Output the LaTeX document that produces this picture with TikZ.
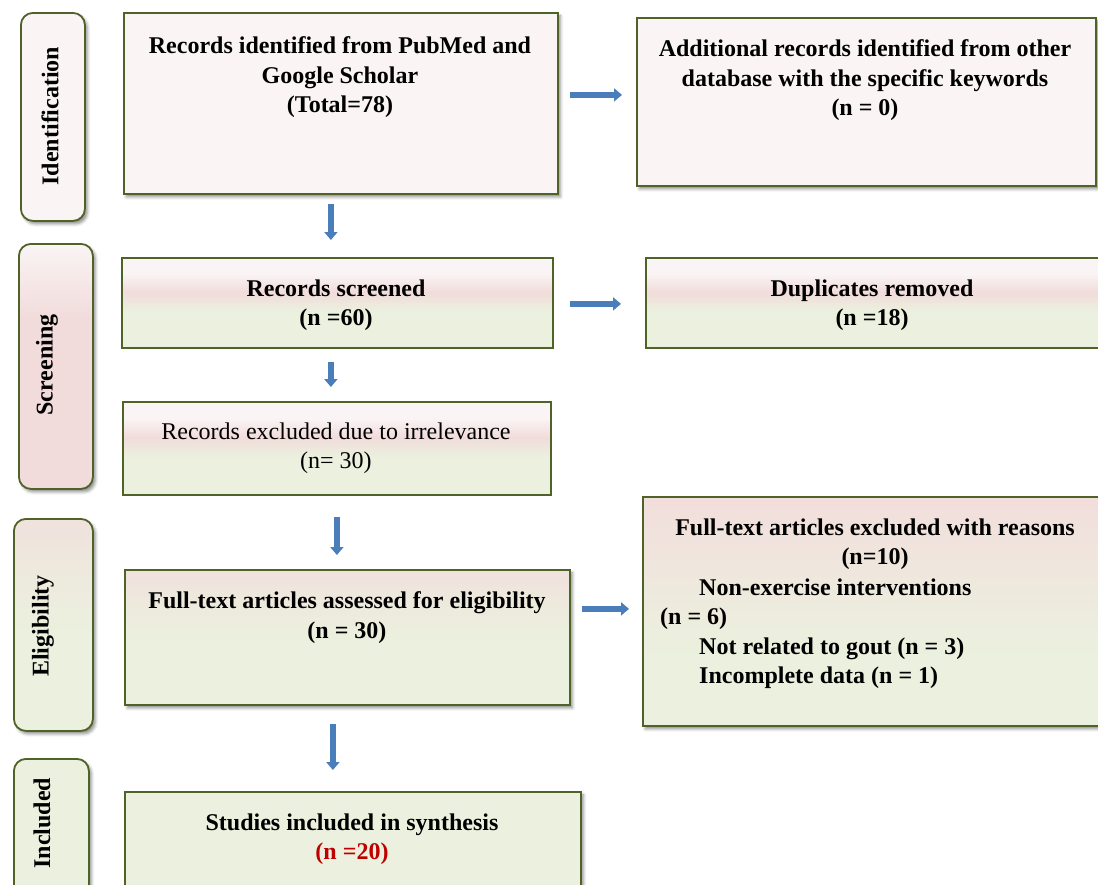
\documentclass[tikz,border=0pt]{standalone}
\usepackage{fontspec}
\setmainfont{Liberation Serif}
\usetikzlibrary{arrows.meta,shadows.blur}

\definecolor{boxline}{HTML}{4F6228}
\definecolor{paleblush}{HTML}{FAF4F4}
\definecolor{blush}{HTML}{F1DCDB}
\definecolor{sage}{HTML}{EBF1DE}
\definecolor{flowblue}{HTML}{4A7EBB}
\definecolor{countred}{HTML}{C00000}
\definecolor{warmtop}{HTML}{F0E2DD}
\definecolor{rosetop}{HTML}{F2DEDC}

% white top, pink band, green lower half
\pgfdeclareverticalshading{bandfill}{100bp}{color(0bp)=(sage); color(25bp)=(sage); color(45bp)=(sage); color(56bp)=(blush); color(66bp)=(paleblush); color(75bp)=(paleblush); color(100bp)=(paleblush)}
% pink top fading into green
\pgfdeclareverticalshading{warmfill}{100bp}{color(0bp)=(sage); color(25bp)=(sage); color(48bp)=(sage); color(75bp)=(warmtop); color(100bp)=(warmtop)}
\pgfdeclareverticalshading{rosefill}{100bp}{color(0bp)=(sage); color(25bp)=(sage); color(40bp)=(sage); color(75bp)=(rosetop); color(100bp)=(rosetop)}
\pgfdeclareverticalshading{pinkfill}{100bp}{color(0bp)=(blush); color(25bp)=(blush); color(60bp)=(blush); color(75bp)=(paleblush); color(100bp)=(paleblush)}

\tikzset{
  box/.style={draw=boxline, line width=1.8pt, anchor=north west, inner sep=0pt},
  shad/.style={blur shadow={shadow xshift=2.5pt, shadow yshift=-3pt, shadow blur radius=3pt, shadow opacity=45}},
  side/.style={box, rounded corners=12pt},
  txt/.style={font=\fontsize{24}{29.5}\selectfont\bfseries, align=center, inner sep=0pt, anchor=north},
  plain/.style={font=\fontsize{24}{29.5}\selectfont, align=center, inner sep=0pt, anchor=north},
  vlabel/.style={font=\fontsize{24}{29.5}\selectfont\bfseries, rotate=90, inner sep=0pt},
  flow/.style={draw=flowblue, line width=5.5pt, -{Triangle[length=8pt,width=13pt]}},
}

\begin{document}
\begin{tikzpicture}[x=1pt,y=-1pt]
\useasboundingbox (0,0) rectangle (1098,884);

% phase labels
\node[side, shad, fill=paleblush, minimum width=64pt, minimum height=208pt] (idside) at (20,12) {};
\node[side, shad, shading=pinkfill, minimum width=74pt, minimum height=245pt] (scrside) at (18,243) {};
\node[side, shad, shading=warmfill, minimum width=79pt, minimum height=212pt] (eliside) at (13,518) {};
\node[side, shad, fill=sage, minimum width=75pt, minimum height=142pt] (incside) at (13,758) {};
\node[vlabel] (idlab) at (50,116) {Identification};
\node[vlabel] (scrlab) at (47,365) {Screening};
\node[vlabel] (elilab) at (43,626) {Eligibility};
\node[vlabel] (inclab) at (42,823) {Included};

% flow boxes
\node[box, shad, fill=paleblush, minimum width=434pt, minimum height=181pt] (rec) at (123,12) {};
\node[box, shad, fill=paleblush, minimum width=459pt, minimum height=168pt] (add) at (636,17) {};
\node[box, shading=bandfill, minimum width=431pt, minimum height=90pt] (scr) at (121,257) {};
\node[box, shading=bandfill, minimum width=454pt, minimum height=90pt] (dup) at (645,257) {};
\node[box, shading=bandfill, minimum width=428pt, minimum height=93pt] (exc) at (122,401) {};
\node[box, shad, shading=warmfill, minimum width=445pt, minimum height=135pt] (full) at (124,569) {};
\node[box, shad, shading=rosefill, minimum width=466pt, minimum height=229pt] (rsn) at (642,496) {};
\node[box, shad, fill=sage, minimum width=456pt, minimum height=109pt] (stu) at (124,791) {};

% box texts
\node[txt] (recT) at (340,36.5) {Records identified from PubMed and\\Google Scholar\\(Total=78)};
\node[txt] (addT) at (865,39.5) {Additional records identified from other\\database with the specific keywords\\(n = 0)};
\node[txt] (scrT) at (336,279.5) {Records screened\\(n =60)};
\node[txt] (dupT) at (872,279.5) {Duplicates removed\\(n =18)};
\node[plain] (excT) at (336,422.5) {Records excluded due to irrelevance\\(n= 30)};
\node[txt] (fullT) at (347,591.5) {Full-text articles assessed for eligibility\\(n = 30)};
\node[txt] (rsnT) at (875,518.5) {Full-text articles excluded with reasons\\(n=10)};
\node[txt, align=left, anchor=north west] (rsnL) at (660,578.5) {\hspace*{39pt}Non-exercise interventions\\(n = 6)\\\hspace*{39pt}Not related to gout (n = 3)\\\hspace*{39pt}Incomplete data (n = 1)};
\node[txt] (stuT) at (352,813.5) {Studies included in synthesis\\\textcolor{countred}{(n =20)}};

% connectors
\draw[flow, shorten <=11pt, shorten >=14pt] ([yshift=8.5pt]rec.east) -- ([yshift=8.5pt]rec.east -| add.west);
\draw[flow, shorten <=16pt, shorten >=24pt] ([yshift=-1pt]scr.east) -- ([yshift=-1pt]scr.east -| dup.west);
\draw[flow, shorten <=11pt, shorten >=13pt] ([yshift=28.5pt]full.east) -- ([yshift=28.5pt]full.east -| rsn.west);
\draw[flow, shorten <=9pt, shorten >=17pt] ([xshift=-10pt]rec.south) -- ([xshift=-10pt]rec.south |- scr.north);
\draw[flow, shorten <=13pt, shorten >=14pt] ([xshift=-6.5pt]scr.south) -- ([xshift=-6.5pt]scr.south |- exc.north);
\draw[flow, shorten <=21pt, shorten >=14pt] (exc.south) -- (exc.south |- full.north);
\draw[flow, shorten <=18pt, shorten >=21pt] ([xshift=-14.5pt]full.south) -- ([xshift=-14.5pt]full.south |- stu.north);
\end{tikzpicture}
\end{document}
